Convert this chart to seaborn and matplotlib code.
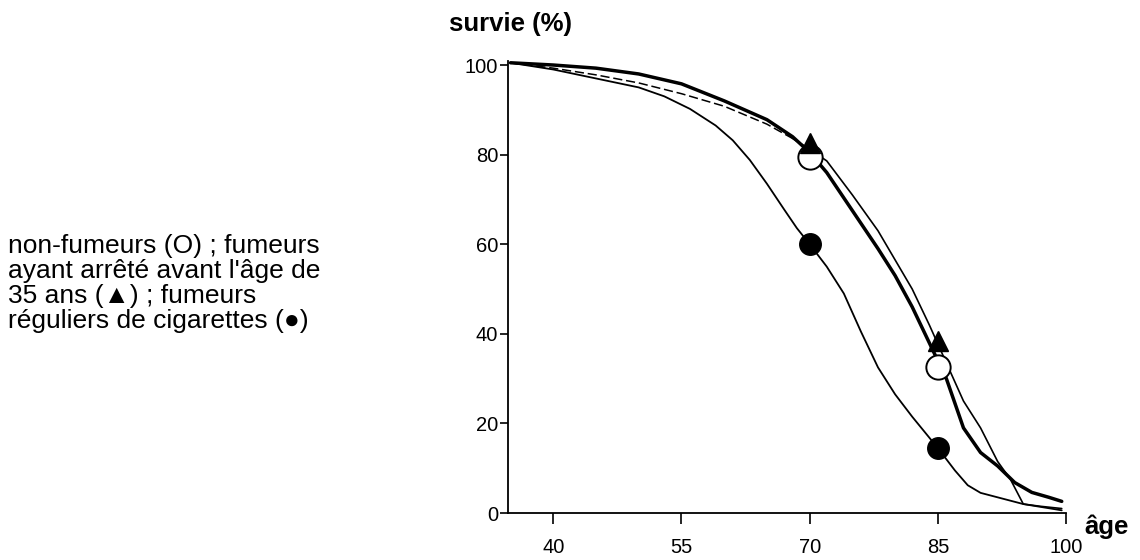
import numpy as np
import matplotlib
matplotlib.use('Agg')
import matplotlib.pyplot as plt
import pandas as pd
import seaborn as sns

# survival curves (age, % surviving)
ages_nonfumeurs = [35, 40, 45, 50, 55, 60, 65, 68, 70, 72, 75, 78, 80, 82, 84, 86, 88, 90, 92, 94, 96, 98, 99.5]
surv_nonfumeurs = [100.5, 100, 99.3, 98, 95.8, 92, 87.8, 84, 80.5, 76, 67.5, 59, 53, 46, 38, 30, 19, 13.5, 10.5, 6.8, 4.6, 3.5, 2.6]

ages_anciens = [35, 40, 45, 50, 55, 60, 65, 68, 70, 72, 75, 78, 80, 82, 84, 86, 88, 90, 92, 93.5, 95, 97, 99.5]
surv_anciens = [100.5, 99.3, 97.8, 96, 93.6, 90.8, 86.8, 83.6, 81.2, 78.6, 71, 63, 56.5, 50, 42, 33.5, 25, 19, 11.5, 7.5, 2, 1.5, 1]

ages_fumeurs = [35, 40, 45, 50, 53, 56, 59, 61, 63, 65, 67, 68.5, 70, 72, 74, 76, 78, 80, 82, 85, 87, 88.5, 90, 95, 99.5]
surv_fumeurs = [100.5, 99, 97, 95, 93, 90.2, 86.5, 83.2, 78.8, 73.5, 67.8, 63.6, 60, 55, 49, 40.5, 32.5, 26.5, 21.5, 14.5, 9.5, 6.2, 4.5, 2, 0.6]

# marker positions
marker_ages = [70, 85]
marker_nonfumeurs = [79.5, 32.5]
marker_anciens = [82.5, 38.5]
marker_fumeurs = [60, 14.5]

x_ticks = [40, 55, 70, 85, 100]
y_ticks = [0, 20, 40, 60, 80, 100]

legend_text = ("non-fumeurs (O) ; fumeurs\n"
               "ayant arrêté avant l'âge de\n"
               "35 ans (\u25B2) ; fumeurs\n"
               "réguliers de cigarettes (\u25CF)")

sns.set_theme(style='ticks')
plt.rcParams['font.family'] = ['Liberation Sans', 'DejaVu Sans']
plt.rcParams['text.color'] = 'black'

df_ns = pd.DataFrame({'age': ages_nonfumeurs, 'survie': surv_nonfumeurs})
df_an = pd.DataFrame({'age': ages_anciens, 'survie': surv_anciens})
df_fu = pd.DataFrame({'age': ages_fumeurs, 'survie': surv_fumeurs})

fig = plt.figure(figsize=(11.4, 5.6), dpi=100)
ax = fig.add_axes([0.4456, 0.0839, 0.4895, 0.808])

# ex-smokers: dashed at first, solid later
early = df_an[df_an.age <= 68]
late = df_an[df_an.age >= 68]
sns.lineplot(data=early, x='age', y='survie', ax=ax, color='black', lw=1.1,
             linestyle=(0, (6, 2.5)), sort=False)
sns.lineplot(data=late, x='age', y='survie', ax=ax, color='black', lw=1.2, sort=False)
sns.lineplot(data=df_fu, x='age', y='survie', ax=ax, color='black', lw=1.3, sort=False)
sns.lineplot(data=df_ns, x='age', y='survie', ax=ax, color='black', lw=2.5, sort=False)

ax.plot(marker_ages, marker_nonfumeurs, 'o', ms=17.5, mfc='white', mec='black', mew=1.4, zorder=5)
ax.plot(marker_ages, marker_anciens, '^', ms=15, color='black', zorder=6)
ax.plot(marker_ages, marker_fumeurs, 'o', ms=15.5, color='black', zorder=6)

ax.set_xlim(34.7, 100)
ax.set_ylim(0, 101)
ax.set_xticks(x_ticks)
ax.set_yticks(y_ticks)
ax.set_xlabel('')
ax.set_ylabel('')
sns.despine(ax=ax)
for s in ['left', 'bottom']:
    ax.spines[s].set_linewidth(1.3)
    ax.spines[s].set_color('black')
ax.tick_params(axis='x', length=8, width=1.2, pad=10, labelsize=14.5, colors='black')
ax.tick_params(axis='y', length=6, width=1.2, pad=1, labelsize=14.5, colors='black')

fig.text(0.448, 0.957, 'survie (%)', fontsize=18.5, fontweight='bold', ha='center', va='center',
         color='black')
fig.text(0.951, 0.06, 'âge', fontsize=18.5, fontweight='bold', ha='left', va='center', color='black')
fig.text(0.007, 0.494, legend_text, fontsize=19, ha='left', va='center', linespacing=1.05,
         color='black', family=['Liberation Sans', 'DejaVu Sans'])

fig.savefig('out.png', dpi=100)
